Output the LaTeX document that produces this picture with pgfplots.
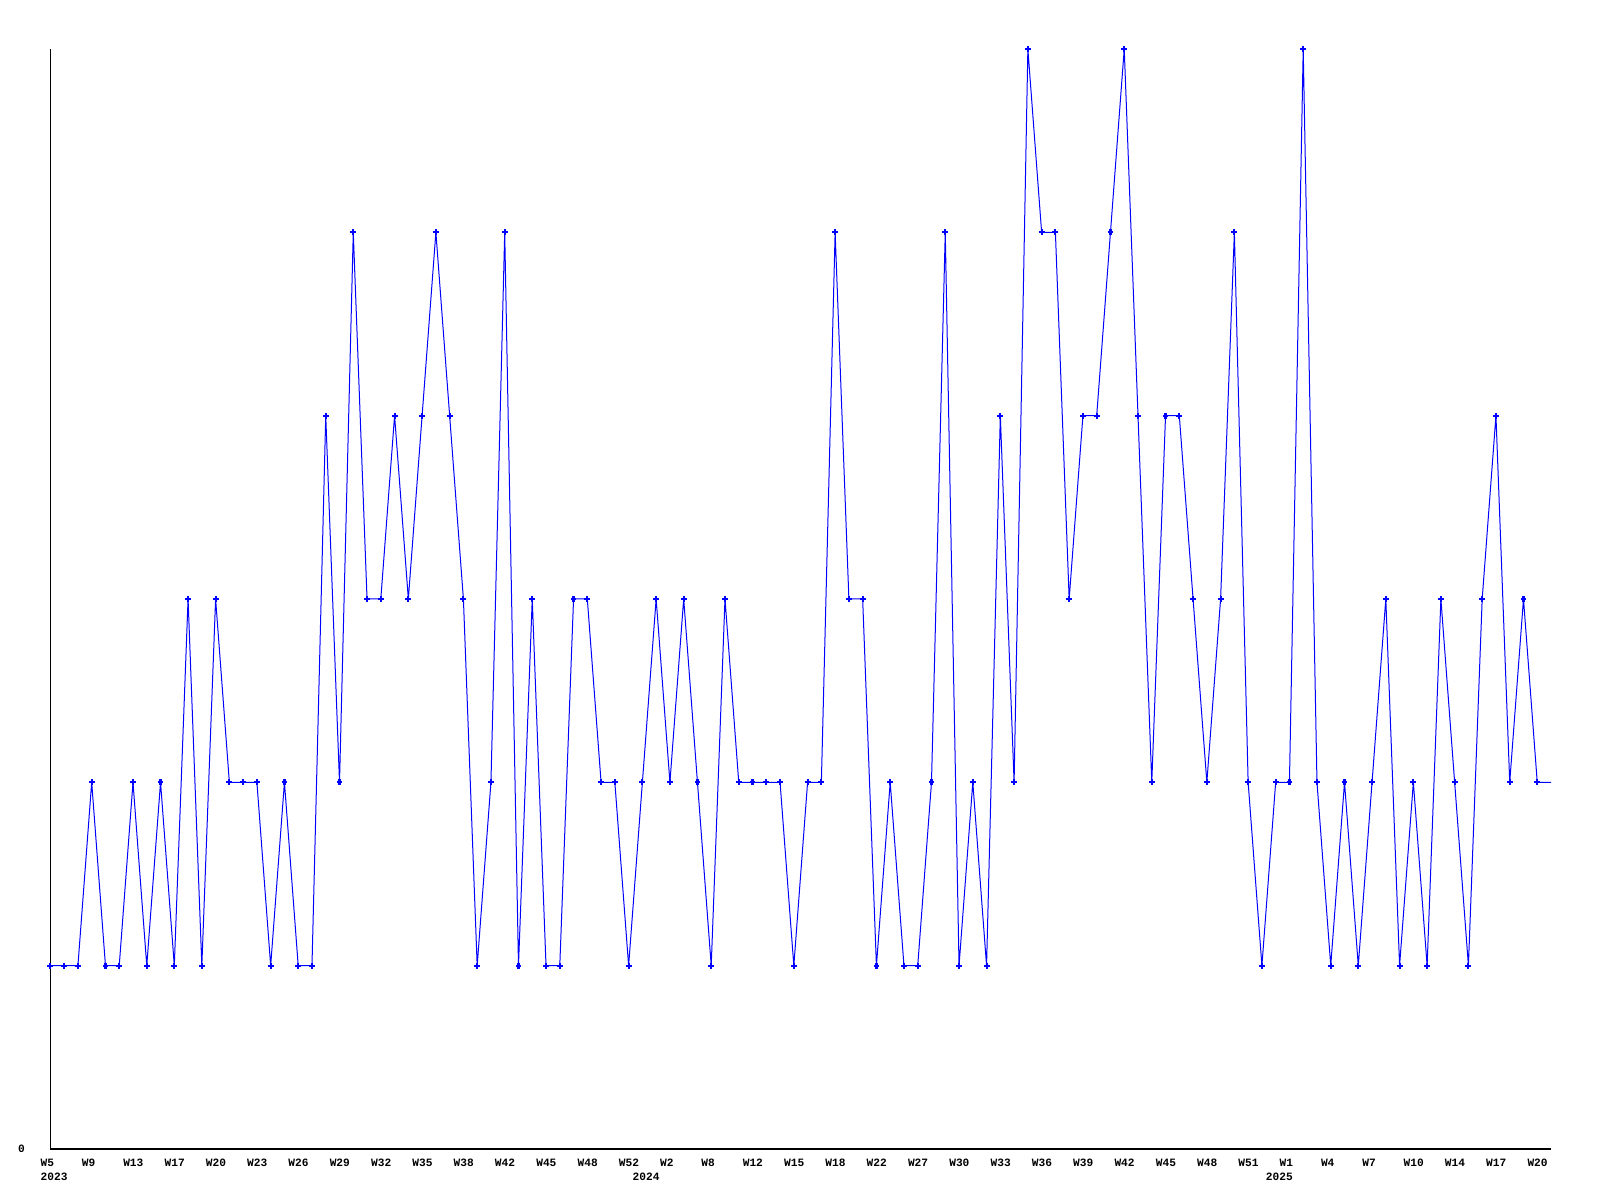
\documentclass[border=0pt]{standalone}
\usepackage{fontspec}
\setmainfont{Liberation Mono}
\usepackage{pgfplots}
\pgfplotsset{compat=1.18}
\newcommand\lblfont{\fontsize{8.4pt}{9pt}\selectfont\bfseries}
\begin{document}
\begin{tikzpicture}
\path[use as bounding box] (0pt,0pt) rectangle (1200pt,900pt);
\begin{axis}[
  at={(37.8pt,38.25pt)}, anchor=origin,
  width=1125.45pt, height=825pt, scale only axis,
  xmin=0, xmax=109, ymin=0, ymax=6,
  axis x line=bottom, axis y line=left,
  axis line style={-, black, line width=0.9pt},
  xtick={0,3,...,108},
  xticklabels={W5,W9,W13,W17,W20,W23,W26,W29,W32,W35,W38,W42,W45,W48,W52,W2,W8,W12,W15,W18,W22,W27,W30,W33,W36,W39,W42,W45,W48,W51,W1,W4,W7,W10,W14,W17,W20},
  ytick={0}, yticklabels={0},
  major tick length=0pt,
  tick style={draw=none},
  xticklabel style={anchor=north west, inner sep=0pt, xshift=-7.5pt, yshift=-7.5pt, font=\lblfont},
  yticklabel style={anchor=east, inner sep=0pt, xshift=-19pt, font=\lblfont},
  clip=false,
  enlargelimits=false,
]
\addplot[color={rgb,255:red,0;green,0;blue,255}, line width=0.75pt, mark=+, mark size=2.2pt, mark options={line width=1.6pt}, mark indices={1,...,109}] coordinates {
(0,1)(1,1)(2,1)(3,2)(4,1)(5,1)(6,2)(7,1)(8,2)(9,1)
(10,3)(11,1)(12,3)(13,2)(14,2)(15,2)(16,1)(17,2)(18,1)(19,1)
(20,4)(21,2)(22,5)(23,3)(24,3)(25,4)(26,3)(27,4)(28,5)(29,4)
(30,3)(31,1)(32,2)(33,5)(34,1)(35,3)(36,1)(37,1)(38,3)(39,3)
(40,2)(41,2)(42,1)(43,2)(44,3)(45,2)(46,3)(47,2)(48,1)(49,3)
(50,2)(51,2)(52,2)(53,2)(54,1)(55,2)(56,2)(57,5)(58,3)(59,3)
(60,1)(61,2)(62,1)(63,1)(64,2)(65,5)(66,1)(67,2)(68,1)(69,4)
(70,2)(71,6)(72,5)(73,5)(74,3)(75,4)(76,4)(77,5)(78,6)(79,4)
(80,2)(81,4)(82,4)(83,3)(84,2)(85,3)(86,5)(87,2)(88,1)(89,2)
(90,2)(91,6)(92,2)(93,1)(94,2)(95,1)(96,2)(97,3)(98,1)(99,2)
(100,1)(101,3)(102,2)(103,1)(104,3)(105,4)(106,2)(107,3)(108,2)(109,2)
};
\node[anchor=north west, inner sep=0pt, xshift=-7.5pt, yshift=-18pt, font=\lblfont] at (axis cs:0,0) {2023};
\node[anchor=north west, inner sep=0pt, xshift=-7.5pt, yshift=-18pt, font=\lblfont] at (axis cs:43,0) {2024};
\node[anchor=north west, inner sep=0pt, xshift=-7.5pt, yshift=-18pt, font=\lblfont] at (axis cs:89,0) {2025};
\end{axis}
\end{tikzpicture}
\end{document}
